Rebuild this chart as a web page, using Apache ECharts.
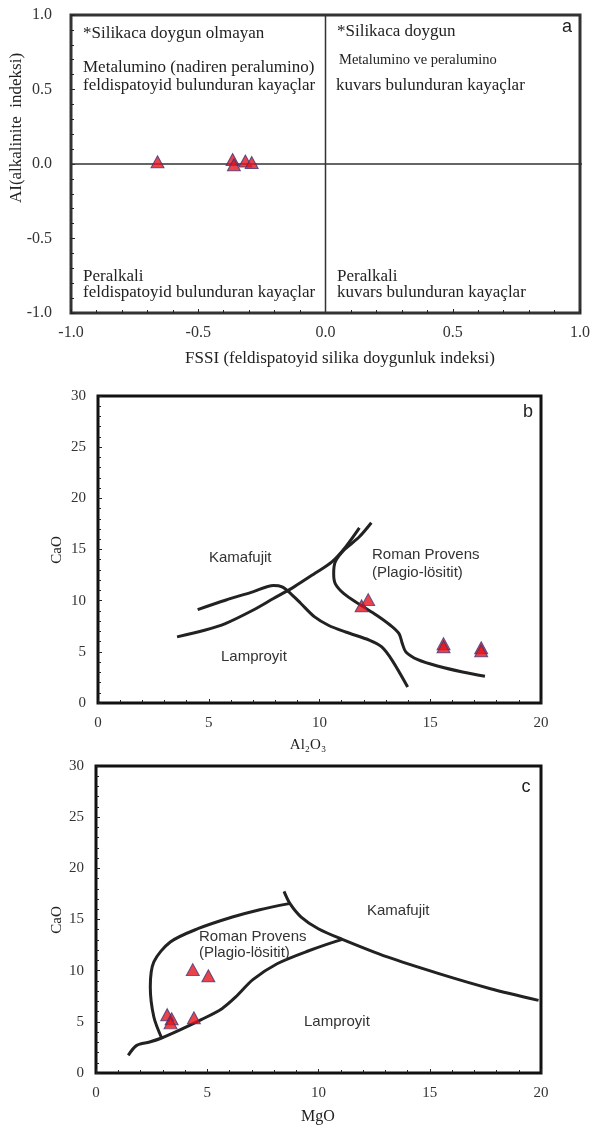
<!DOCTYPE html>
<html>
<head>
<meta charset="utf-8">
<script src="https://cdn.jsdelivr.net/npm/echarts@6/dist/echarts.min.js"></script>
<style>html,body{margin:0;padding:0;background:#fff;}#c{width:594px;height:1128px;}</style>
</head>
<body>
<div id="c"></div>
<script>
// ---- Chart a data ----
const aFSSI = [-0.66, -0.365, -0.36, -0.315, -0.29];
const aAI   = [0.015, 0.03, -0.005, 0.02, 0.01];
const aZeroH = [[-1, 0], [1.02, 0]];
const aZeroV = [[0, -1], [0, 1]];

// ---- Chart b data (Al2O3 vs CaO) ----
const bAl = [11.9, 12.2, 15.6, 15.6, 17.3, 17.3];
const bCa = [9.5, 10.1, 5.8, 5.5, 5.4, 5.1];
const bLine1 = [[4.50,9.13],[5.75,10.04],[6.99,10.86],[7.92,11.48],[8.31,11.35],[8.70,10.69],[9.16,9.72],[9.78,8.41],[10.40,7.60],[11.18,6.94],[12.27,6.13],[12.81,5.48],[13.28,4.17],[13.98,1.57]];
const bLine2 = [[3.57,6.46],[4.81,7.11],[5.75,7.76],[6.99,9.06],[7.92,10.21],[8.85,11.35],[9.78,12.65],[10.56,13.79],[11.18,15.26],[11.80,17.12]];
const bLine3 = [[12.34,17.61],[11.80,16.24],[11.10,14.93],[10.71,13.79],[10.64,12.65],[10.71,11.67],[11.10,10.69],[11.80,9.65],[12.58,8.58],[13.20,7.60],[13.59,6.78],[13.74,5.80],[13.90,4.99],[14.44,4.24],[15.37,3.59],[16.46,3.03],[17.47,2.61]];

// ---- Chart c data (MgO vs CaO) ----
const cMg = [3.2, 3.4, 3.35, 4.4, 4.35, 5.05];
const cCa = [5.7, 5.3, 4.9, 5.4, 10.1, 9.5];
const cLineA = [[1.45,1.73],[1.83,2.70],[2.41,3.03],[2.95,3.42],[3.80,4.23],[4.73,5.21],[5.66,6.29],[6.28,7.43],[7.05,9.12],[8.14,10.68],[9.53,11.92],[11.07,13.06]];
const cLineB = [[2.95,3.42],[2.60,5.47],[2.44,8.40],[2.60,10.85],[3.34,12.80],[4.58,14.10],[6.13,15.24],[7.36,15.96],[8.68,16.55]];
const cLineC = [[8.45,17.75],[8.72,16.55],[9.22,15.24],[9.99,14.10],[11.07,13.06],[13.09,11.34],[15.41,9.71],[17.73,8.24],[19.89,7.10]];

// ---- Tick settings ----
const aTicks = {min: -1, max: 1, interval: 0.5};
const bcXTicks = {min: 0, max: 20, interval: 5};
const bcYTicks = {min: 0, max: 30, interval: 5};

const serif = 'Liberation Serif';
const sans = 'Liberation Sans';

function axis(idx, ticks, pos, fontSize, margin, fmt) {
  return Object.assign({
    type: 'value', gridIndex: idx, position: pos,
    axisLine: {show: false, onZero: false},
    splitLine: {show: false},
    axisTick: {show: true, inside: true, length: 4, lineStyle: {color: '#222', width: 1}},
    minorTick: {show: true, splitNumber: 5, length: 3, lineStyle: {color: '#222', width: 1}},
    axisLabel: {color: '#333', fontFamily: serif, fontSize: fontSize, margin: margin, formatter: fmt}
  }, ticks);
}
const f1 = v => v.toFixed(1);
const f0 = v => String(v);

function tri(data, xi) {
  return {type: 'scatter', xAxisIndex: xi, yAxisIndex: xi, data: data, symbol: 'triangle', symbolSize: [13, 12],
    itemStyle: {color: '#e5141c', borderColor: '#3d3577', borderWidth: 1}, z: 5};
}
function curve(data, xi, w, col, smooth) {
  return {type: 'line', xAxisIndex: xi, yAxisIndex: xi, data: data, showSymbol: false, smooth: smooth,
    lineStyle: {color: col, width: w}, silent: true, z: 3, clip: false};
}
function label(x, y, text, size, family, align, color, rot) {
  const el = {type: 'text', x: x, y: y, z: 10,
    style: {text: text, font: size + 'px "' + family + '"', fill: color || '#222', align: align || 'left', verticalAlign: 'middle'}};
  if (rot) el.rotation = rot;
  return el;
}
function zip(xs, ys) { return xs.map((x, i) => [x, ys[i]]); }

const option = {
  backgroundColor: '#fff',
  animation: false,
  grid: [
    {left: 71, top: 15, width: 509, height: 298, show: true, borderColor: '#333', borderWidth: 3, backgroundColor: 'transparent'},
    {left: 98, top: 396, width: 443, height: 307, show: true, borderColor: '#111', borderWidth: 3, backgroundColor: 'transparent'},
    {left: 96, top: 766, width: 445, height: 307, show: true, borderColor: '#111', borderWidth: 3, backgroundColor: 'transparent'}
  ],
  xAxis: [
    axis(0, aTicks, 'bottom', 16, 12, f1),
    axis(1, bcXTicks, 'bottom', 15, 13, f0),
    axis(2, bcXTicks, 'bottom', 15, 13, f0)
  ],
  yAxis: [
    axis(0, aTicks, 'left', 16, 19, f1),
    axis(1, bcYTicks, 'left', 15, 12, f0),
    axis(2, bcYTicks, 'left', 15, 12, f0)
  ],
  series: [
    curve(aZeroH, 0, 1.5, '#333', false),
    curve(aZeroV, 0, 1.5, '#333', false),
    tri(zip(aFSSI, aAI), 0),
    curve(bLine1, 1, 3, '#222', 0.3),
    curve(bLine2, 1, 3, '#222', 0.3),
    curve(bLine3, 1, 3, '#222', 0.3),
    tri(zip(bAl, bCa), 1),
    curve(cLineA, 2, 3, '#222', 0.3),
    curve(cLineB, 2, 3, '#222', 0.3),
    curve(cLineC, 2, 3, '#222', 0.3),
    tri(zip(cMg, cCa), 2)
  ],
  graphic: [
    // chart a annotations
    label(83, 34, '*Silikaca doygun olmayan', 17, serif),
    label(83, 68, 'Metalumino (nadiren peralumino)', 17, serif),
    label(83, 86, 'feldispatoyid bulunduran kayaçlar', 17, serif),
    label(337, 32, '*Silikaca doygun', 17, serif),
    label(339, 60, 'Metalumino ve peralumino', 14.5, serif),
    label(336, 86, 'kuvars bulunduran kayaçlar', 17, serif),
    label(83, 277, 'Peralkali', 17, serif),
    label(83, 293, 'feldispatoyid bulunduran kayaçlar', 17, serif),
    label(337, 277, 'Peralkali', 17, serif),
    label(337, 293, 'kuvars bulunduran kayaçlar', 17, serif),
    label(567, 27, 'a', 18, sans, 'center'),
    label(340, 359, 'FSSI (feldispatoyid silika doygunluk indeksi)', 17, serif, 'center'),
    label(17, 128, 'AI(alkalinite  indeksi)', 17, serif, 'center', '#222', Math.PI / 2),
    // chart b annotations
    label(209, 558, 'Kamafujit', 15, sans, 'left', '#333'),
    label(372, 555, 'Roman Provens', 15, sans, 'left', '#333'),
    label(372, 573, '(Plagio-lösitit)', 15, sans, 'left', '#333'),
    label(221, 657, 'Lamproyit', 15, sans, 'left', '#333'),
    label(528, 412, 'b', 18, sans, 'center'),
    label(308, 745, 'Al₂O₃', 15, serif, 'center'),
    label(57, 550, 'CaO', 15, serif, 'center', '#222', Math.PI / 2),
    // chart c annotations
    label(199, 937, 'Roman Provens', 15, sans, 'left', '#333'),
    label(199, 953, '(Plagio-lösitit)', 15, sans, 'left', '#333'),
    label(367, 911, 'Kamafujit', 15, sans, 'left', '#333'),
    label(304, 1022, 'Lamproyit', 15, sans, 'left', '#333'),
    label(526, 787, 'c', 18, sans, 'center'),
    label(318, 1117, 'MgO', 16, serif, 'center'),
    label(57, 920, 'CaO', 15, serif, 'center', '#222', Math.PI / 2)
  ]
};

const chart = echarts.init(document.getElementById('c'), null, {renderer: 'canvas'});
chart.setOption(option);
</script>
</body>
</html>
